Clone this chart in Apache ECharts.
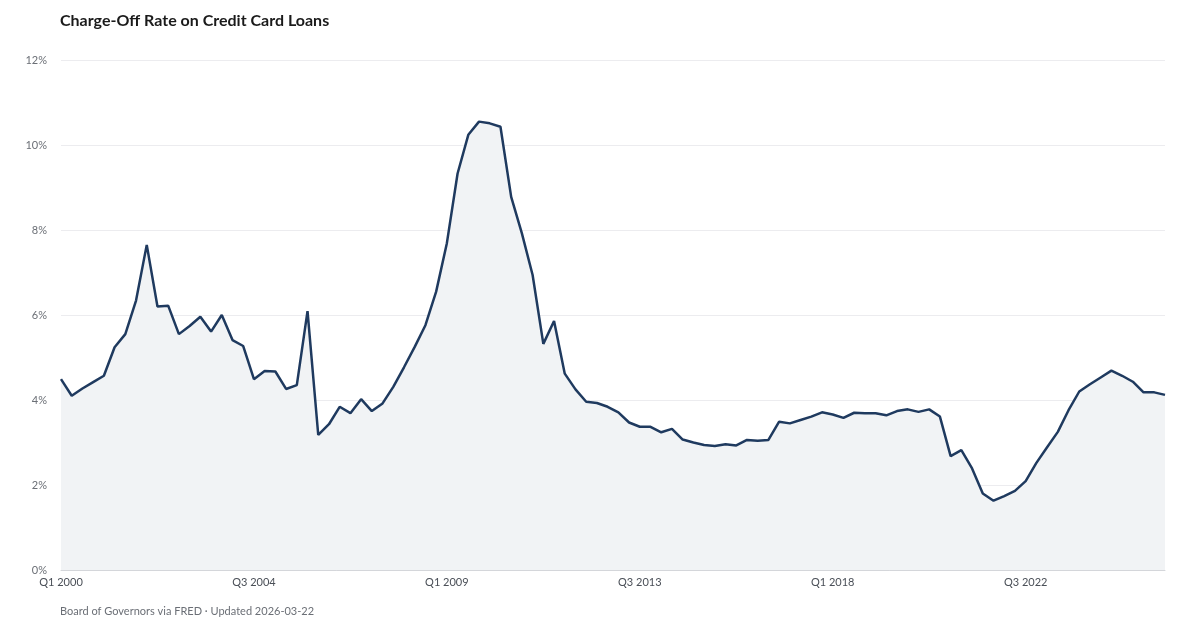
<!DOCTYPE html>
<html><head><meta charset="utf-8">
<script src="https://cdn.jsdelivr.net/npm/echarts@6/dist/echarts.min.js"></script>
<style>html,body{margin:0;padding:0;background:#fff}#c{width:1200px;height:630px}</style>
</head><body><div id="c"></div>
<script>
const startYear = 2000;
const quarterCount = 104;
const categories = [];
for (let i = 0; i < quarterCount; i++) {
  categories.push('Q' + (i % 4 + 1) + ' ' + (startYear + Math.floor(i / 4)));
}
const chargeOffRate = [
  4.49, 4.10, 4.27, 4.42, 4.57, 5.24, 5.55, 6.34,
  7.65, 6.20, 6.22, 5.55, 5.74, 5.96, 5.61, 6.00,
  5.41, 5.27, 4.49, 4.68, 4.67, 4.26, 4.35, 6.09,
  3.18, 3.43, 3.84, 3.69, 4.02, 3.74, 3.92, 4.31,
  4.77, 5.25, 5.76, 6.55, 7.69, 9.33, 10.24, 10.55,
  10.51, 10.43, 8.78, 7.92, 6.94, 5.32, 5.86, 4.62,
  4.25, 3.96, 3.93, 3.84, 3.71, 3.47, 3.37, 3.37,
  3.24, 3.32, 3.07, 3.00, 2.94, 2.92, 2.96, 2.93,
  3.06, 3.04, 3.06, 3.49, 3.45, 3.53, 3.61, 3.71,
  3.66, 3.58, 3.70, 3.69, 3.69, 3.64, 3.74, 3.78,
  3.72, 3.78, 3.61, 2.68, 2.82, 2.39, 1.80, 1.63,
  1.74, 1.86, 2.09, 2.52, 2.89, 3.25, 3.76, 4.20,
  4.37, 4.53, 4.69, 4.57, 4.43, 4.18, 4.18, 4.12
];
const yTicks = { min: 0, max: 12, interval: 2 };
const titleText = 'Charge-Off Rate on Credit Card Loans';
const sourceText = 'Board of Governors via FRED · Updated 2026-03-22';

const chart = echarts.init(document.getElementById('c'), null, { renderer: 'canvas' });
chart.setOption({
  animation: false,
  backgroundColor: '#ffffff',
  textStyle: { fontFamily: 'Lato' },
  title: [
    { text: titleText, left: 60, top: 13, padding: 0,
      textStyle: { fontFamily: 'Lato', fontSize: 16, fontWeight: 'bold', color: '#1a1a1a' } },
    { text: sourceText, left: 60, top: 606, padding: 0,
      textStyle: { fontFamily: 'Lato', fontSize: 11, fontWeight: 'normal', color: '#6b6f76' } }
  ],
  grid: { left: 61, right: 35, top: 60, bottom: 60, containLabel: false },
  xAxis: {
    type: 'category',
    data: categories,
    boundaryGap: false,
    axisLine: { show: true, lineStyle: { color: '#d4d6da', width: 1 } },
    axisTick: { show: false },
    axisLabel: { interval: 17, color: '#4a4f57', fontSize: 11, margin: 7, fontFamily: 'Lato' },
    splitLine: { show: false }
  },
  yAxis: {
    type: 'value',
    min: yTicks.min, max: yTicks.max, interval: yTicks.interval,
    axisLine: { show: false },
    axisTick: { show: false },
    axisLabel: { formatter: '{value}%', color: '#6b6f76', fontSize: 11, margin: 14, fontFamily: 'Lato' },
    splitLine: { lineStyle: { color: '#ececef', width: 1 } }
  },
  series: [{
    type: 'line',
    data: chargeOffRate,
    symbol: 'none',
    smooth: false,
    lineStyle: { color: '#1f3a5f', width: 2.5 },
    areaStyle: { color: '#f1f3f5', opacity: 1 }
  }]
});
</script>
</body></html>
